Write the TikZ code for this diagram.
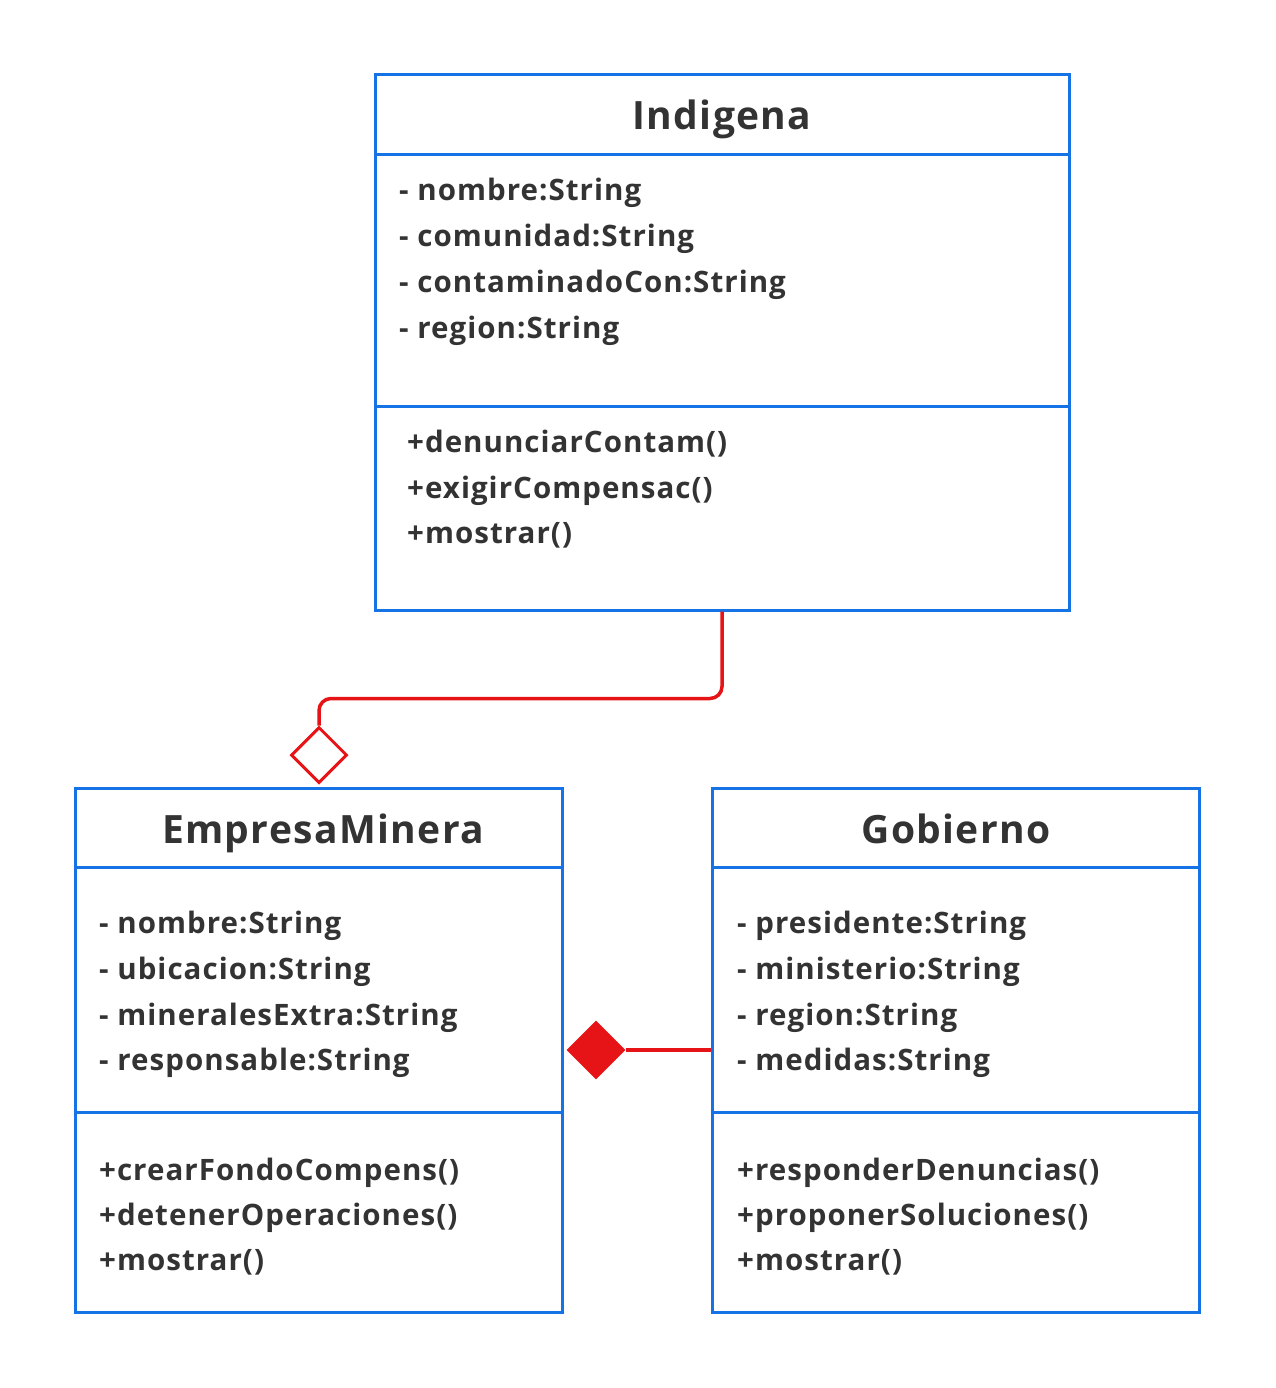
\documentclass[tikz,border=0pt]{standalone}
\usepackage{fontspec}
\setmainfont{Open Sans}
\newfontfamily\umlfont[LetterSpace=3.5]{Open Sans}
\usetikzlibrary{shapes.geometric}
\definecolor{umlblue}{RGB}{22,115,230}
\definecolor{umlred}{RGB}{230,20,22}
\definecolor{umltext}{RGB}{51,51,51}
\tikzset{
  classbox/.style={draw=umlblue, line width=3pt, minimum width=#1, inner sep=0pt, fill=none},
  sep/.style={draw=umlblue, line width=3pt},
  title/.style={font=\umlfont\fontsize{39}{44}\selectfont\bfseries, text=umltext, anchor=base, inner sep=0pt},
  member/.style={font=\umlfont\fontsize{29.5}{34}\selectfont\bfseries, text=umltext, anchor=base west, inner sep=0pt},
  conn/.style={draw=umlred, line width=3.5pt},
}
\begin{document}
\begin{tikzpicture}[x=1pt,y=-1pt]
\useasboundingbox (0,0) rectangle (1275,1388);
\fill[white] (0,0) rectangle (1275,1388);

% Indigena
\node[classbox=694pt, minimum height=535pt] (ind) at (722,342.5) {};
\draw[sep] (ind.west |- 0,155) -- (ind.east |- 0,155);
\draw[sep] (ind.west |- 0,406) -- (ind.east |- 0,406);
\node[title] (indt) at (722,130) {Indigena};
\node[member] (ia1) at (399,201) {- nombre:String};
\node[member] (ia2) at (399,247) {- comunidad:String};
\node[member] (ia3) at (399,292) {- contaminadoCon:String};
\node[member] (ia4) at (399,338) {- region:String};
\node[member] (im1) at (407,452) {+denunciarContam()};
\node[member] (im2) at (407,498) {+exigirCompensac()};
\node[member] (im3) at (407,543) {+mostrar()};

% EmpresaMinera
\node[classbox=487pt, minimum height=524pt] (emp) at (318.5,1050) {};
\draw[sep] (emp.west |- 0,867) -- (emp.east |- 0,867);
\draw[sep] (emp.west |- 0,1112) -- (emp.east |- 0,1112);
\node[title] (empt) at (323,843) {EmpresaMinera};
\node[member] (ea1) at (99,933) {- nombre:String};
\node[member] (ea2) at (99,979) {- ubicacion:String};
\node[member] (ea3) at (99,1025) {- mineralesExtra:String};
\node[member] (ea4) at (99,1070) {- responsable:String};
\node[member] (em1) at (99,1180) {+crearFondoCompens()};
\node[member] (em2) at (99,1225) {+detenerOperaciones()};
\node[member] (em3) at (99,1270) {+mostrar()};

% Gobierno
\node[classbox=487pt, minimum height=524pt] (gob) at (955.5,1050) {};
\draw[sep] (gob.west |- 0,867) -- (gob.east |- 0,867);
\draw[sep] (gob.west |- 0,1112) -- (gob.east |- 0,1112);
\node[title] (gobt) at (956,843) {Gobierno};
\node[member] (ga1) at (737,933) {- presidente:String};
\node[member] (ga2) at (737,979) {- ministerio:String};
\node[member] (ga3) at (737,1025) {- region:String};
\node[member] (ga4) at (737,1070) {- medidas:String};
\node[member] (gm1) at (737,1180) {+responderDenuncias()};
\node[member] (gm2) at (737,1225) {+proponerSoluciones()};
\node[member] (gm3) at (737,1270) {+mostrar()};

% aggregation (hollow diamond)
\node[diamond, aspect=1, draw=umlred, line width=3pt, fill=white, minimum size=56pt, inner sep=0pt] (agg) at (319,755) {};
\draw[conn, rounded corners=12pt] (ind.south) -- ++(0,87) -| (agg.north);

% composition (filled diamond)
\node[diamond, aspect=1, fill=umlred, minimum size=59pt, inner sep=0pt] (comp) at (596,1050) {};
\draw[conn] (comp.east) -- (gob.west);
\end{tikzpicture}
\end{document}
